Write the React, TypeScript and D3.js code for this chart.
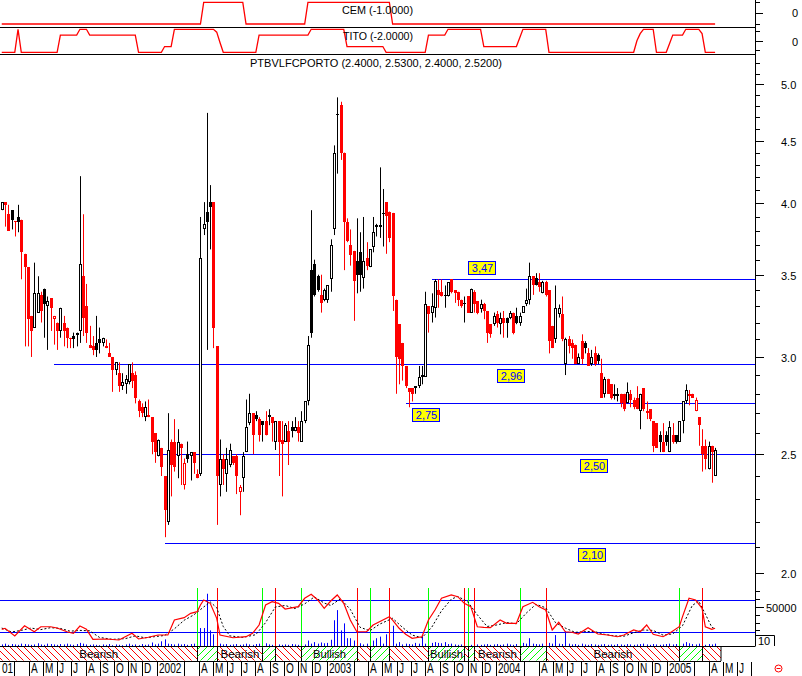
import React from 'react';
import * as d3 from 'd3';

const FONT = "'Liberation Sans', Arial, sans-serif";
const RED = '#ff0000';
const GREEN = '#00ff00';
const BLUE = '#0000ff';

// first weekly bar
const firstWeek = new Date(2001, 1, 2);
const weekDate = (i: number) => new Date(firstWeek.getTime() + i * 7 * 864e5);

// weekly candles [open, high, low, close]
const weeklyOHLC: [number, number, number, number][] = [
  [3.95,4.01,3.95,4.01],[4.01,4.01,3.83,3.99],[3.92,3.99,3.80,3.80],[3.95,3.95,3.81,3.88],[3.87,3.87,3.76,3.86],
  [3.90,3.99,3.79,3.86],[3.88,3.88,3.47,3.65],[3.64,3.64,3.06,3.55],[3.55,3.55,3.06,3.22],[3.24,3.24,3.00,3.15],
  [3.17,3.58,3.17,3.38],[3.26,3.49,3.26,3.38],[3.37,3.39,3.20,3.27],[3.41,3.41,3.11,3.31],[3.30,3.36,3.04,3.33],
  [3.35,3.35,3.15,3.29],[3.22,3.24,3.07,3.24],[3.20,3.20,3.04,3.15],[3.15,3.29,3.11,3.29],[3.20,3.24,3.06,3.15],
  [3.17,3.17,3.05,3.11],[3.11,3.11,3.05,3.10],[3.12,3.14,3.05,3.10],[3.13,3.14,3.06,3.14],[3.15,4.21,3.08,3.57],
  [3.49,3.92,3.12,3.23],[3.30,3.44,3.08,3.14],[3.07,3.18,3.05,3.05],[3.06,3.12,3.01,3.04],[3.08,3.24,3.00,3.04],
  [3.10,3.17,3.02,3.08],[3.08,3.11,3.06,3.11],[3.06,3.10,3.05,3.05],[3.02,3.08,3.00,3.00],[3.00,3.00,2.81,2.93],
  [2.93,2.97,2.90,2.97],[2.91,2.97,2.81,2.84],[2.84,2.91,2.82,2.86],[2.85,2.90,2.80,2.88],[2.86,2.96,2.85,2.96],
  [2.91,2.97,2.83,2.87],[2.90,2.92,2.75,2.78],[2.76,2.77,2.68,2.71],[2.73,2.75,2.68,2.70],[2.68,2.76,2.66,2.73],
  [2.69,2.77,2.68,2.68],[2.68,2.68,2.50,2.56],[2.60,2.60,2.46,2.51],[2.49,2.57,2.49,2.57],[2.53,2.53,2.40,2.44],
  [2.40,2.40,2.14,2.25],[2.20,2.70,2.19,2.52],[2.56,2.57,2.31,2.45],[2.56,2.67,2.42,2.44],[2.49,2.62,2.39,2.56],
  [2.55,2.55,2.36,2.53],[2.36,2.48,2.34,2.46],[2.50,2.56,2.46,2.48],[2.49,2.51,2.38,2.51],[2.51,2.51,2.41,2.46],
  [2.41,2.43,2.39,2.39],[2.41,3.90,2.40,3.61],[3.81,4.01,3.77,3.85],[3.94,4.74,3.04,3.86],[4.01,4.14,3.67,3.97],
  [4.01,4.01,3.05,3.17],[3.06,3.06,2.19,2.40],[2.36,2.57,2.31,2.48],[2.48,2.50,2.36,2.43],[2.41,2.53,2.33,2.48],
  [2.45,2.55,2.44,2.52],[2.49,2.49,2.45,2.46],[2.49,2.50,2.32,2.40],[2.33,2.36,2.23,2.35],[2.39,2.51,2.33,2.49],
  [2.51,2.77,2.51,2.63],[2.65,2.80,2.64,2.70],[2.70,2.70,2.50,2.59],[2.69,2.71,2.66,2.67],[2.67,2.68,2.56,2.59],
  [2.66,2.66,2.56,2.64],[2.66,2.71,2.59,2.59],[2.68,2.72,2.64,2.69],[2.68,2.68,2.56,2.65],[2.56,2.66,2.52,2.66],
  [2.66,2.66,2.40,2.56],[2.57,2.66,2.31,2.55],[2.56,2.65,2.56,2.64],[2.61,2.66,2.45,2.56],[2.63,2.66,2.58,2.61],
  [2.61,2.68,2.61,2.63],[2.63,2.66,2.56,2.60],[2.56,2.71,2.56,2.66],[2.66,2.76,2.65,2.76],[2.76,3.12,2.74,3.07],
  [3.53,3.95,3.11,3.14],[3.57,3.60,3.36,3.37],[3.49,3.50,3.39,3.40],[3.37,3.50,3.26,3.32],[3.34,3.41,3.33,3.40],
  [3.34,3.43,3.32,3.43],[3.47,3.74,3.39,3.70],[3.81,4.46,3.77,4.40],[4.73,4.88,4.23,4.72],[4.81,4.84,4.34,4.40],
  [4.40,4.40,3.53,3.86],[3.86,3.89,3.72,3.73],[3.70,3.81,3.56,3.63],[3.66,3.66,3.21,3.46],[3.59,3.89,3.38,3.50],
  [3.65,3.79,3.39,3.50],[3.48,3.90,3.41,3.59],[3.61,3.72,3.53,3.56],[3.55,3.67,3.55,3.67],[3.69,3.90,3.65,3.79],
  [3.84,3.85,3.76,3.83],[3.84,4.28,3.75,3.83],[3.93,4.11,3.69,3.92],[4.01,4.01,3.64,3.91],[3.94,3.94,3.72,3.75],
  [3.93,3.93,3.27,3.36],[3.34,3.34,2.80,3.00],[3.19,3.19,2.85,2.99],[3.08,3.08,2.87,2.95],[2.95,2.95,2.83,2.84],
  [2.83,2.83,2.73,2.81],[2.83,2.83,2.76,2.80],[2.84,2.84,2.80,2.83],[2.84,2.95,2.83,2.89],[2.90,2.95,2.85,2.89],
  [2.89,3.39,2.89,3.31],[3.30,3.30,3.14,3.25],[3.26,3.38,3.20,3.30],[3.29,3.47,3.23,3.46],[3.40,3.47,3.29,3.37],
  [3.39,3.47,3.36,3.36],[3.37,3.43,3.29,3.36],[3.36,3.45,3.36,3.45],[3.47,3.47,3.38,3.39],[3.40,3.40,3.32,3.38],
  [3.39,3.39,3.30,3.34],[3.34,3.34,3.29,3.30],[3.32,3.36,3.20,3.31],[3.36,3.36,3.26,3.26],[3.26,3.41,3.26,3.41],
  [3.39,3.40,3.26,3.31],[3.33,3.33,3.25,3.26],[3.28,3.34,3.26,3.31],[3.31,3.32,3.22,3.27],[3.27,3.27,3.08,3.14],
  [3.19,3.19,3.11,3.13],[3.19,3.26,3.18,3.24],[3.25,3.27,3.17,3.20],[3.19,3.26,3.13,3.23],[3.23,3.27,3.11,3.20],
  [3.23,3.23,3.11,3.20],[3.23,3.27,3.22,3.26],[3.26,3.26,3.13,3.14],[3.24,3.29,3.19,3.20],[3.20,3.26,3.18,3.24],
  [3.26,3.30,3.26,3.30],[3.31,3.41,3.30,3.34],[3.34,3.58,3.31,3.49],[3.49,3.49,3.37,3.43],[3.48,3.51,3.43,3.43],
  [3.45,3.51,3.39,3.42],[3.38,3.46,3.38,3.45],[3.45,3.46,3.36,3.37],[3.40,3.40,3.02,3.09],[3.18,3.18,3.05,3.05],
  [3.10,3.43,3.08,3.29],[3.25,3.31,3.23,3.29],[3.25,3.36,3.09,3.10],[2.96,3.11,2.90,3.10],[3.10,3.12,3.02,3.06],
  [3.08,3.10,2.99,3.05],[3.07,3.07,2.96,2.96],[2.96,3.02,2.96,3.00],[3.09,3.13,2.96,2.99],[3.08,3.09,3.02,3.05],
  [3.02,3.05,2.95,2.95],[2.96,3.04,2.95,3.00],[3.02,3.06,2.95,2.96],[3.01,3.02,2.96,2.98],[2.91,2.99,2.78,2.78],
  [2.80,2.89,2.78,2.88],[2.88,2.88,2.80,2.80],[2.85,2.85,2.77,2.78],[2.80,2.85,2.77,2.79],[2.79,2.83,2.76,2.80],
  [2.80,2.80,2.73,2.75],[2.80,2.80,2.71,2.72],[2.75,2.86,2.75,2.81],[2.80,2.82,2.73,2.77],[2.77,2.78,2.72,2.73],
  [2.78,2.84,2.72,2.72],[2.71,2.80,2.62,2.80],[2.83,2.83,2.71,2.72],[2.70,2.76,2.67,2.71],[2.72,2.72,2.66,2.67],
  [2.66,2.66,2.51,2.54],[2.65,2.65,2.53,2.53],[2.59,2.61,2.51,2.56],[2.56,2.65,2.51,2.51],[2.59,2.61,2.54,2.56],
  [2.51,2.66,2.51,2.63],[2.59,2.65,2.55,2.56],[2.59,2.59,2.55,2.56],[2.56,2.66,2.56,2.66],[2.66,2.76,2.60,2.76],
  [2.76,2.85,2.75,2.82],[2.80,2.82,2.74,2.79],[2.80,2.80,2.78,2.78],[2.71,2.78,2.71,2.77],[2.68,2.68,2.54,2.64],
  [2.54,2.62,2.42,2.50],[2.54,2.57,2.43,2.48],[2.43,2.56,2.43,2.54],[2.54,2.54,2.37,2.51],[2.40,2.53,2.40,2.52],
];

// weekly volume
const weeklyVolume: number[] = [
  2000,3000,1500,2500,2000,1500,3000,2500,2000,1500,
  2000,3500,2000,1500,3000,2500,2000,1500,2500,2000,
  3000,2000,1500,2500,4000,3000,2000,1500,2000,1500,
  1000,2000,1500,2500,1000,2000,1500,1000,2000,3000,
  1500,2000,1000,2500,1500,2000,4500,2000,3000,6000,
  8500,3000,2500,2000,3000,2000,2500,1500,2500,3000,
  20500,23000,23000,67000,20000,15000,10000,3000,2000,2500,
  1500,2000,2500,1500,2000,3000,2000,1500,2500,3000,
  2000,3500,2000,1500,2500,2000,1500,2000,1500,2500,
  2000,1500,3500,2000,7000,3000,5000,3000,4500,3500,
  4000,8000,33000,46000,20000,29000,10000,10000,7000,10000,
  3500,2000,3000,2500,7000,10000,12000,3000,15000,33000,
  26000,3000,5000,2000,3000,2500,2000,4000,3000,14000,
  3000,2500,4000,5000,4000,3500,5000,2500,3000,2000,
  1500,2000,3000,2000,1500,2500,2000,1500,2000,2500,
  1500,2000,2500,1500,2000,3000,2000,1500,2500,3000,
  4000,3000,10000,3000,2500,2000,3000,5000,4000,3000,
  14000,3000,2500,19000,3000,2000,2500,1500,3000,2000,
  1500,2500,2000,1500,2000,2500,1500,2000,1500,2500,
  2000,1500,2500,2000,1500,2000,2500,3000,2000,1500,
  2500,2000,1500,2000,2500,3000,2000,2500,4000,3000,
  5000,3500,2500,2000,3000,2000,1500,2500,2000,3000,
];

// volume oscillator (red) readings [week index, value]
const oscMain: [number, number][] = [
  [0,21400],[1,22700],[4,12800],[7,26000],[10,18300],[12,24700],[15,24700],[17,23100],[20,18300],[22,16300],
  [24,25600],[26,21400],[28,8600],[32,9000],[36,7700],[40,16300],[42,9000],[45,11200],[48,14100],[51,14100],
  [53,33300],[56,36300],[58,41900],[60,44000],[61,52600],[62,59000],[64,54700],[66,35500],[67,14100],[71,10600],
  [75,11900],[77,16300],[79,26900],[81,52600],[83,56800],[85,54700],[87,47400],[91,50400],[93,61200],[95,66300],
  [97,59000],[99,48300],[101,57700],[103,65400],[105,54700],[107,33300],[109,18300],[112,18300],[114,26900],[119,37600],
  [120,33300],[122,22700],[124,15000],[126,9900],[129,11900],[131,33300],[133,46200],[135,61200],[138,65400],[140,63200],
  [142,54700],[144,50400],[146,24700],[148,24000],[150,23500],[153,33300],[155,29100],[158,29100],[160,50400],[163,56000],
  [165,50400],[167,46200],[169,20500],[171,30400],[173,18300],[175,17600],[177,15400],[180,23500],[183,15400],[186,14100],
  [189,11900],[191,14100],[194,20500],[196,18300],[198,26900],[200,15000],[203,11900],[205,16300],[208,24700],[209,37600],
  [211,61200],[213,59000],[215,48300],[216,24700],[218,21400],[219,22700],
];

// signal line of the oscillator (black dashed)
const oscSignal: [number, number][] = [
  [0,23000],[3,18000],[6,20000],[9,23000],[12,21000],[15,23500],[18,22500],[21,19000],[24,20000],[27,19500],
  [30,11000],[34,8500],[38,9500],[41,13000],[44,10500],[47,12000],[50,13500],[53,22000],[56,33000],[59,40000],
  [62,50000],[64,56500],[66,49000],[68,25000],[70,13000],[74,11000],[78,14500],[81,30000],[84,50000],[87,52000],
  [90,48000],[93,54000],[96,63000],[99,55000],[101,52000],[104,60500],[107,47000],[110,24000],[113,19500],[116,28000],
  [120,35500],[123,24000],[126,14000],[129,10500],[132,24000],[135,45000],[138,60000],[140,63500],[143,57000],[146,40000],
  [149,25000],[152,27000],[155,30000],[158,28500],[161,42000],[164,53500],[167,49000],[170,30000],[173,23000],[176,17500],
  [179,18500],[182,18500],[185,15000],[188,13000],[191,12500],[194,17000],[197,20500],[200,20000],[203,14000],[206,15500],
  [209,26000],[212,52000],[214,57500],[216,41000],[218,24000],[219,22000],
];

const oscBands = [59000, 18000];
const oscTicks = [20000, 30000, 40000, 50000, 60000, 70000];

// CEM and TITO indicator states, as [first week index, value] runs
const cemRuns: [number, number][] = [[0,-1],[62,1],[75,-1],[94,1],[120,-1]];
const titoRuns: [number, number][] = [
  [0,-2],[5,2],[6,-2],[18,1],[24,2],[27,1],[42,-2],[50,-1],[53,2],[66,1.5],[67,-0.3],[68,-2],[79,1],
  [95,2],[106,-1],[118,-2],[131,1],[137,2],[148,-1],[159,0.5],[160,2],[168,-2],[195,0],[196,1.25],
  [197,2],[201,-2],[205,-0.5],[206,1],[210,2],[215,1.25],[216,-2],
];

// trading signals [week index, kind]
const signals: [number, 'buy' | 'sell'][] = [
  [60,'buy'],[66,'sell'],[80,'buy'],[84,'sell'],[92,'buy'],[109,'sell'],[113,'buy'],[119,'sell'],
  [131,'buy'],[142,'sell'],[143,'buy'],[145,'sell'],[159,'buy'],[167,'sell'],[208,'buy'],[215,'sell'],
];

// horizontal support / resistance levels
const levelValues = [3.47, 2.96, 2.75, 2.50, 2.115];
const levelLabels = ['3,47', '2,96', '2,75', '2,50', '2,10'];
const levelFromWeek = [132, 16, 124, 48, 50];
const levelLabelWeek = [147.5, 156.2, 130.1, 181.7, 181.2];
const levelLabelAbove = [true, false, false, false, false];

const symbol = 'PTBVLFCPORTO';
const lastBar = [2.4, 2.53, 2.4, 2.52];
const monthLetters = ['J', 'F', 'M', 'A', 'M', 'J', 'J', 'A', 'S', 'O', 'N', 'D'];

function expandRuns(runs: [number, number][], n: number): number[] {
  const out: number[] = [];
  let r = 0;
  for (let i = 0; i < n; i++) {
    while (r + 1 < runs.length && runs[r + 1][0] <= i) r++;
    out.push(runs[r][1]);
  }
  return out;
}

export default function App() {
  const n = weeklyOHLC.length;
  const x = d3.scaleTime().domain([new Date(2002, 0, 1), new Date(2005, 0, 1)]).range([156.7, 666.7]);
  const xi = (i: number) => x(weekDate(i));
  const yP = d3.scaleLog().domain([2, 5]).range([573.3, 84.4]);
  const yCem = d3.scaleLinear().domain([-1, 1]).range([24, 2.4]);
  const yTito = d3.scaleLinear().domain([-2, 2]).range([52.3, 29.3]);
  const yOsc = d3.scaleLinear().domain([0, 50000]).range([646, 607]);

  const cem = expandRuns(cemRuns, n);
  const tito = expandRuns(titoRuns, n);
  const cemLine = d3.line<number>().x((_, i) => xi(i)).y(v => yCem(v))(cem) || '';
  const titoLine = d3.line<number>().x((_, i) => xi(i)).y(v => yTito(v))(tito) || '';
  const oscLine = d3.line<[number, number]>().x(d => xi(d[0])).y(d => yOsc(d[1]));

  const AX = 755.5;

  const priceTicks = d3.range(19, 53).map(k => k / 10).filter(v => yP(v) > 58 && yP(v) < 586);

  const xEnd = Math.round(xi(n - 1)) + 6;
  const bands: { x0: number; x1: number; bull: boolean }[] = [];
  let px = 0;
  let bull = false;
  signals.forEach(([wi, kind]) => {
    const xs = Math.round(xi(wi)) + 0.5;
    bands.push({ x0: px, x1: xs, bull });
    px = xs;
    bull = kind === 'buy';
  });
  bands.push({ x0: px, x1: xEnd, bull });

  const months = d3.timeMonth.range(new Date(2001, 0, 1), new Date(2005, 7, 1));
  const LABEL_SX = 0.72;
  const LABEL_FS = 14;

  return (
    <svg width={802} height={676} style={{ position: 'fixed', left: 0, top: 0, background: '#fff' }}
      fontFamily={FONT}>
      <defs>
        <clipPath id="cPlot"><rect x={0} y={0} width={755} height={676} /></clipPath>
        <clipPath id="cMain"><rect x={0} y={54} width={755} height={534} /></clipPath>
        <clipPath id="cOsc"><rect x={0} y={586} width={755} height={60} /></clipPath>
        <pattern id="hBear" width={7} height={7} patternUnits="userSpaceOnUse">
          <path d="M0,0L7,7M-7,0L0,7M7,0L14,7" stroke={RED} strokeWidth={1} />
        </pattern>
        <pattern id="hBull" width={7} height={7} patternUnits="userSpaceOnUse">
          <path d="M0,7L7,0M-7,7L0,0M7,7L14,0" stroke={GREEN} strokeWidth={1} />
        </pattern>
      </defs>
      <rect x={0} y={0} width={802} height={676} fill="#fff" />

      {/* CEM & TITO panels */}
      <g clipPath="url(#cPlot)">
        <path d={cemLine} fill="none" stroke={RED} strokeWidth={1.3} />
        <path d={titoLine} fill="none" stroke={RED} strokeWidth={1.3} />
      </g>
      <line x1={0} x2={AX} y1={27.5} y2={27.5} stroke="#000" />
      <line x1={0} x2={AX} y1={54.5} y2={54.5} stroke="#000" />
      <text x={342} y={14} fontSize={11} textLength={71} lengthAdjust="spacingAndGlyphs">
        {`CEM (${cem[n - 1].toFixed(4)})`}
      </text>
      <text x={343} y={39.5} fontSize={11} textLength={70} lengthAdjust="spacingAndGlyphs">
        {`TITO (${tito[n - 1].toFixed(4)})`}
      </text>
      {[1, 0, -1].map(v => (
        <line key={'ct' + v} x1={AX} x2={v === 0 ? 763 : 760} y1={Math.round(yCem(v)) + 0.5} y2={Math.round(yCem(v)) + 0.5} stroke="#000" />
      ))}
      <text x={792} y={17.3} fontSize={11}>0</text>
      {[1.75, 0, -1.6].map(v => (
        <line key={'tt' + v} x1={AX} x2={v === 0 ? 763 : 760} y1={Math.round(yTito(v)) + 0.5} y2={Math.round(yTito(v)) + 0.5} stroke="#000" />
      ))}
      <text x={792} y={45.5} fontSize={11}>0</text>

      {/* main price panel */}
      <text x={250} y={67} fontSize={11} textLength={252} lengthAdjust="spacingAndGlyphs">
        {`${symbol} (${lastBar.map(v => v.toFixed(4)).join(', ')})`}
      </text>
      <g clipPath="url(#cMain)">
        {levelValues.map((v, k) => {
          const y = Math.round(yP(v)) + 0.5;
          return <line key={'lv' + k} x1={Math.round(xi(levelFromWeek[k]))} x2={AX} y1={y} y2={y} stroke={BLUE} strokeWidth={1.2} />;
        })}
        {weeklyOHLC.map((d, i) => {
          const [o, h, l, c] = d;
          const pc = i > 0 ? weeklyOHLC[i - 1][3] : o;
          const col = c < pc ? RED : '#000';
          const cx = Math.round(xi(i));
          const yO = yP(o), yC = yP(c);
          const top = Math.round(Math.min(yO, yC));
          const bot = Math.round(Math.max(yO, yC));
          let body;
          if (c < o) {
            body = <rect x={cx - 1} y={top} width={3} height={Math.max(1, bot - top)} fill={col} />;
          } else if (c > o) {
            body = <rect x={cx - 0.5} y={top + 0.5} width={2} height={Math.max(1, bot - top - 1)} fill="#fff" stroke={col} strokeWidth={1} />;
          } else {
            body = <line x1={cx - 1} x2={cx + 2} y1={top + 0.5} y2={top + 0.5} stroke={col} />;
          }
          return (
            <g key={'c' + i}>
              <line x1={cx + 0.5} x2={cx + 0.5} y1={yP(h)} y2={yP(l)} stroke={col} strokeWidth={1} />
              {body}
            </g>
          );
        })}
        {levelValues.map((v, k) => {
          const y = Math.round(yP(v));
          const cx = Math.round(xi(levelLabelWeek[k]));
          const by = levelLabelAbove[k] ? y - 18 : y + 5;
          return (
            <g key={'ll' + k}>
              <rect x={cx - 13.5} y={by + 0.5} width={27} height={13} fill="#ffff00" stroke={BLUE} strokeWidth={1} />
              <text x={cx + 0.5} y={by + 11} fontSize={11} fill={BLUE} textAnchor="middle">{levelLabels[k]}</text>
            </g>
          );
        })}
      </g>
      {priceTicks.map(v => {
        const y = Math.round(yP(v)) + 0.5;
        const major = Math.round(v * 10) % 5 === 0;
        return (
          <g key={'pt' + v}>
            <line x1={AX} x2={major ? 764 : 760} y1={y} y2={y} stroke="#000" />
            {major && <text x={781} y={y + 4} fontSize={11}>{v.toFixed(1)}</text>}
          </g>
        );
      })}

      {/* oscillator panel */}
      <g clipPath="url(#cOsc)">
        {oscBands.map(v => (
          <line key={'ob' + v} x1={0} x2={AX} y1={Math.round(yOsc(v)) + 0.5} y2={Math.round(yOsc(v)) + 0.5} stroke={BLUE} strokeWidth={1.2} />
        ))}
        {weeklyVolume.map((v, i) => {
          const cx = Math.round(xi(i)) + 0.5;
          return <line key={'v' + i} x1={cx} x2={cx} y1={646} y2={yOsc(v)} stroke={BLUE} strokeWidth={1} />;
        })}
        {signals.map(([wi, kind]) => {
          const xs = Math.round(xi(wi)) + 0.5;
          return <line key={'s' + wi} x1={xs} x2={xs} y1={588} y2={646} stroke={kind === 'buy' ? GREEN : RED} strokeWidth={1} />;
        })}
        <path d={oscLine(oscSignal) || ''} fill="none" stroke="#000" strokeWidth={1} strokeDasharray="2,2" />
        <path d={oscLine(oscMain) || ''} fill="none" stroke={RED} strokeWidth={1.2} />
      </g>
      {oscTicks.map(v => {
        const y = Math.round(yOsc(v)) + 0.5;
        const major = v === 50000;
        return (
          <g key={'ot' + v}>
            <line x1={AX} x2={major ? 764 : 760} y1={y} y2={y} stroke="#000" />
            {major && <text x={766} y={y + 4} fontSize={11}>{d3.format('d')(v)}</text>}
          </g>
        );
      })}
      <path d="M755.5,635.5H774.5V646" fill="none" stroke="#000" />
      <text x={758} y={645} fontSize={11}>10</text>

      {/* bullish / bearish band */}
      {bands.map((b, k) => {
        const w = b.x1 - b.x0;
        const lw = b.bull ? 33 : 39;
        const label = b.bull ? 'Bullish' : 'Bearish';
        return (
          <g key={'b' + k}>
            <rect x={b.x0} y={646.5} width={w} height={14} fill={`url(#${b.bull ? 'hBull' : 'hBear'})`} />
            <line x1={b.x1} x2={b.x1} y1={646} y2={661} stroke="#000" />
            {w >= lw + 2 && (
              <text x={(b.x0 + b.x1) / 2} y={657.5} fontSize={11} textAnchor="middle" textLength={lw} lengthAdjust="spacingAndGlyphs">{label}</text>
            )}
          </g>
        );
      })}
      <line x1={0} x2={AX} y1={646.5} y2={646.5} stroke="#000" />
      <line x1={0} x2={xEnd} y1={661.5} y2={661.5} stroke="#000" />

      {/* time axis */}
      <g clipPath="url(#cPlot)">
        {months.map(m => {
          const mi = m.getMonth();
          if (mi === 1) return null;
          const xm = Math.round(x(m)) + 0.5;
          let label = mi === 0 ? String(m.getFullYear()) : mi === 2 ? '' : monthLetters[mi];
          let lx = xm + 1.5;
          if (mi === 0 && lx < 0) {
            // year label partly hidden by the left edge: only its visible digits show
            label = label.slice(2);
            lx = 2;
          }
          if (mi !== 0 && lx > 752) label = '';
          return (
            <g key={'m' + m.getTime()}>
              {xm > 0 && <line x1={xm} x2={xm} y1={662} y2={676} stroke="#000" />}
              {label && (
                <text transform={`translate(${lx},672.8) scale(${LABEL_SX},1)`} fontSize={LABEL_FS}>{label}</text>
              )}
            </g>
          );
        })}
      </g>

      {/* right axis line */}
      <line x1={AX} x2={AX} y1={0} y2={646} stroke="#000" />
      <g>
        <circle cx={778.5} cy={668.5} r={3.5} fill="none" stroke={RED} strokeWidth={1} />
        <line x1={776.5} x2={780.5} y1={668.5} y2={668.5} stroke={RED} />
      </g>
    </svg>
  );
}
